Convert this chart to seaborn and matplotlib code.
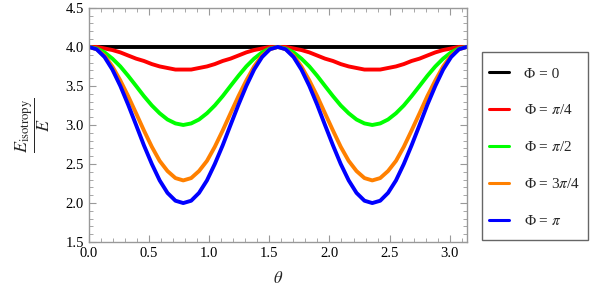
# Energy ratio vs theta for several Phi values

import pandas as pd
import matplotlib
matplotlib.use("Agg")
import matplotlib.pyplot as plt
import seaborn as sns
from matplotlib.ticker import MultipleLocator
from matplotlib.patches import Rectangle

# sample grid (theta from 0 to pi)
theta = [0.000, 0.065, 0.131, 0.196, 0.262, 0.327, 0.393, 0.458, 0.524, 0.589,
         0.654, 0.720, 0.785, 0.851, 0.916, 0.982, 1.047, 1.113, 1.178, 1.244,
         1.309, 1.374, 1.440, 1.505, 1.571, 1.636, 1.702, 1.767, 1.833, 1.898,
         1.963, 2.029, 2.094, 2.160, 2.225, 2.291, 2.356, 2.422, 2.487, 2.553,
         2.618, 2.683, 2.749, 2.814, 2.880, 2.945, 3.011, 3.076, 3.142]

phi_0 = [4.00] * 49
phi_pi4 = [4.00, 4.00, 3.98, 3.96, 3.93, 3.89, 3.85, 3.82, 3.78, 3.75, 3.73, 3.71, 3.71,
           3.71, 3.73, 3.75, 3.78, 3.82, 3.85, 3.89, 3.93, 3.96, 3.98, 4.00, 4.00,
           4.00, 3.98, 3.96, 3.93, 3.89, 3.85, 3.82, 3.78, 3.75, 3.73, 3.71, 3.71,
           3.71, 3.73, 3.75, 3.78, 3.82, 3.85, 3.89, 3.93, 3.96, 3.98, 4.00, 4.00]
phi_pi2 = [4.00, 3.98, 3.93, 3.85, 3.75, 3.63, 3.50, 3.37, 3.25, 3.15, 3.07, 3.02, 3.00,
           3.02, 3.07, 3.15, 3.25, 3.37, 3.50, 3.63, 3.75, 3.85, 3.93, 3.98, 4.00,
           3.98, 3.93, 3.85, 3.75, 3.63, 3.50, 3.37, 3.25, 3.15, 3.07, 3.02, 3.00,
           3.02, 3.07, 3.15, 3.25, 3.37, 3.50, 3.63, 3.75, 3.85, 3.93, 3.98, 4.00]
phi_3pi4 = [4.00, 3.97, 3.89, 3.75, 3.57, 3.37, 3.15, 2.93, 2.72, 2.54, 2.41, 2.32, 2.29,
            2.32, 2.41, 2.54, 2.72, 2.93, 3.15, 3.37, 3.57, 3.75, 3.89, 3.97, 4.00,
            3.97, 3.89, 3.75, 3.57, 3.37, 3.15, 2.93, 2.72, 2.54, 2.41, 2.32, 2.29,
            2.32, 2.41, 2.54, 2.72, 2.93, 3.15, 3.37, 3.57, 3.75, 3.89, 3.97, 4.00]
phi_pi = [4.00, 3.97, 3.87, 3.71, 3.50, 3.26, 3.00, 2.74, 2.50, 2.29, 2.13, 2.03, 2.00,
          2.03, 2.13, 2.29, 2.50, 2.74, 3.00, 3.26, 3.50, 3.71, 3.87, 3.97, 4.00,
          3.97, 3.87, 3.71, 3.50, 3.26, 3.00, 2.74, 2.50, 2.29, 2.13, 2.03, 2.00,
          2.03, 2.13, 2.29, 2.50, 2.74, 3.00, 3.26, 3.50, 3.71, 3.87, 3.97, 4.00]

labels = ['Φ = 0', 'Φ = $\\pi$/4', 'Φ = $\\pi$/2', 'Φ = 3$\\pi$/4', 'Φ = $\\pi$']
series = [phi_0, phi_pi4, phi_pi2, phi_3pi4, phi_pi]
colors = ['#000000', '#ff0000', '#00ff00', '#ff8000', '#0000ff']

# long format for seaborn
rows = []
for lab, vals in zip(labels, series):
    for t, v in zip(theta, vals):
        rows.append({'theta': t, 'E': v, 'Phi': lab})
df = pd.DataFrame(rows)

sns.set_style('ticks')
plt.rcParams['font.family'] = ['Liberation Serif', 'DejaVu Serif']
plt.rcParams['mathtext.fontset'] = 'stix'

fig = plt.figure(figsize=(6.0, 3.03), dpi=100)
ax = fig.add_axes([0.148, 0.201, 0.630, 0.773])

sns.lineplot(data=df, x='theta', y='E', hue='Phi', palette=colors,
             hue_order=labels, linewidth=2.8, ax=ax, legend=False)

ax.set_xlim(0, 3.1416)
ax.set_ylim(1.5, 4.5)
ax.xaxis.set_major_locator(MultipleLocator(0.5))
ax.xaxis.set_minor_locator(MultipleLocator(0.1))
ax.yaxis.set_major_locator(MultipleLocator(0.5))
ax.yaxis.set_minor_locator(MultipleLocator(0.1))
ax.xaxis.set_major_formatter(plt.FormatStrFormatter('%.1f'))
ax.yaxis.set_major_formatter(plt.FormatStrFormatter('%.1f'))

gray = '#999999'
for sp in ax.spines.values():
    sp.set_visible(True)
    sp.set_color(gray)
    sp.set_linewidth(1.0)
ax.tick_params(which='both', direction='in', top=True, right=True,
               color=gray, labelsize=10.5, labelcolor='black')
ax.tick_params(which='major', length=5, width=0.8)
ax.tick_params(which='minor', length=3, width=0.6)

ax.set_xlabel(r'$\theta$', fontsize=12, labelpad=8)
ax.set_ylabel(r'$\dfrac{E_{\mathrm{isotropy}}}{E}$', fontsize=13, labelpad=10)

# legend entries without frame, box drawn separately
handles = [plt.Line2D([], [], color=c, lw=2.2) for c in colors]
leg = ax.legend(handles, labels, loc='upper left',
                bbox_to_anchor=(0.803, 0.802), bbox_transform=fig.transFigure,
                borderaxespad=0, fontsize=11, frameon=False,
                handlelength=1.3, handletextpad=1.0, labelspacing=1.5,
                borderpad=0.45)
fig.patches.append(Rectangle((0.803, 0.208), 0.177, 0.620, transform=fig.transFigure,
                             fill=False, edgecolor='#666666', linewidth=1.0))

fig.savefig('out.png', dpi=100)
